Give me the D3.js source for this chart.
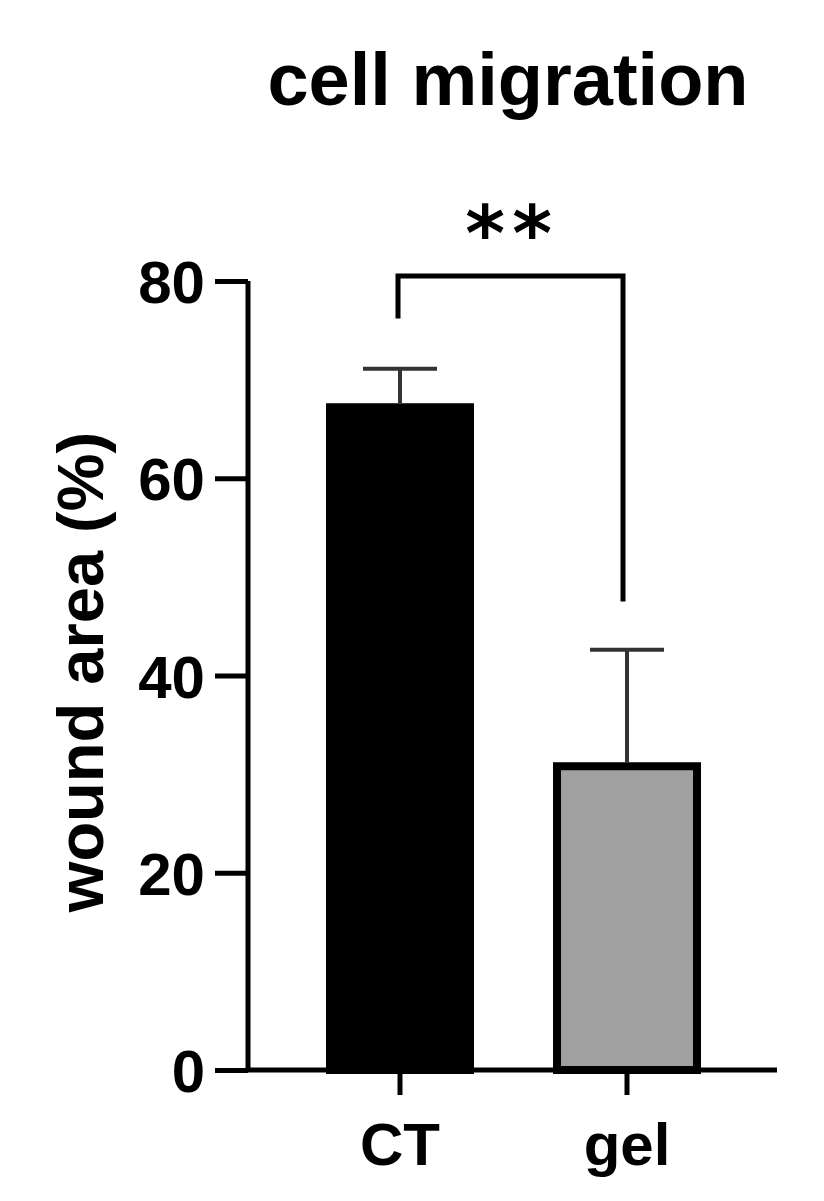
<!DOCTYPE html>
<html><head><meta charset="utf-8">
<script src="https://cdn.jsdelivr.net/npm/d3@7"></script>
<style>body{margin:0;background:#fff}</style>
</head><body>
<svg id="c" width="824" height="1201"></svg>
<script>
const categories = ["CT", "gel"];
const means = [67.2, 30.8];
const sds = [3.9, 11.8];
const fills = ["#000000", "#a0a0a0"];
const yTicks = [0, 20, 40, 60, 80];
const bracketTop = 80.5;
const bracketEnds = [76.2, 47.5];
const sigLabel = ["*", "*"];
const title = "cell migration";
const yLabel = "wound area (%)";

const svg = d3.select("#c");
const font = "'Liberation Sans', Arial, sans-serif";
const y = d3.scaleLinear().domain([0, 80]).range([1070, 281]);
const x = d3.scaleBand().domain(categories).range([286.5, 740.5]);
const cx = c => x(c) + x.bandwidth() / 2;
const barW = 140;

// bars
svg.selectAll("rect.bar").data(categories).join("rect")
  .attr("x", c => cx(c) - barW / 2)
  .attr("y", (c, i) => y(means[i]))
  .attr("width", barW)
  .attr("height", (c, i) => y(0) - y(means[i]))
  .attr("fill", (c, i) => fills[i])
  .attr("stroke", "#000").attr("stroke-width", 8);

// error bars
const eb = svg.append("g").attr("stroke", "#333").attr("stroke-width", 4);
categories.forEach((c, i) => {
  eb.append("line").attr("x1", cx(c)).attr("x2", cx(c))
    .attr("y1", y(means[i]) - 4).attr("y2", y(means[i] + sds[i]));
  eb.append("line").attr("x1", cx(c) - 37).attr("x2", cx(c) + 37)
    .attr("y1", y(means[i] + sds[i])).attr("y2", y(means[i] + sds[i]));
});

// y axis
const yAxis = d3.axisLeft(y).tickValues(yTicks).tickSize(33).tickPadding(10);
const gy = svg.append("g").attr("transform", "translate(248,0)").call(yAxis);
gy.select(".domain").attr("d", `M0,${y(80)}V${y(0)}`).attr("stroke-width", 5);
gy.selectAll(".tick line").attr("stroke-width", 5);
gy.selectAll(".tick text").attr("font-family", font).attr("font-weight", "bold")
  .attr("font-size", 60).attr("fill", "#000").attr("dy", "0.36em");

// x axis
const xAxis = d3.axisBottom(x).tickSize(25).tickPadding(27);
const gx = svg.append("g").attr("transform", `translate(0,${y(0)})`).call(xAxis);
gx.select(".domain").attr("d", "M246,0H777").attr("stroke-width", 5);
gx.selectAll(".tick line").attr("stroke-width", 5);
gx.selectAll(".tick text").attr("font-family", font).attr("font-weight", "bold")
  .attr("font-size", 60).attr("fill", "#000");

// bracket
svg.append("path")
  .attr("d", `M${cx(categories[0]) - 2},${y(bracketEnds[0])}V${y(bracketTop)}H${cx(categories[1]) - 4}V${y(bracketEnds[1])}`)
  .attr("fill", "none").attr("stroke", "#000").attr("stroke-width", 5)
  .attr("stroke-linejoin", "miter");
svg.selectAll("text.sig").data(sigLabel).join("text")
  .attr("class", "sig")
  .attr("x", (d, i) => 485 + i * 47).attr("y", 260).attr("text-anchor", "middle")
  .attr("font-family", "'DejaVu Sans', sans-serif").attr("font-weight", "bold").attr("font-size", 76)
  .text(d => d);

// title
svg.append("text").attr("x", 508).attr("y", 105).attr("text-anchor", "middle")
  .attr("font-family", font).attr("font-weight", "bold").attr("font-size", 74)
  .text(title);

// y label
svg.append("text").attr("transform", "translate(103,672) rotate(-90)")
  .attr("text-anchor", "middle")
  .attr("font-family", font).attr("font-weight", "bold").attr("font-size", 65)
  .text(yLabel);
</script>
</body></html>
